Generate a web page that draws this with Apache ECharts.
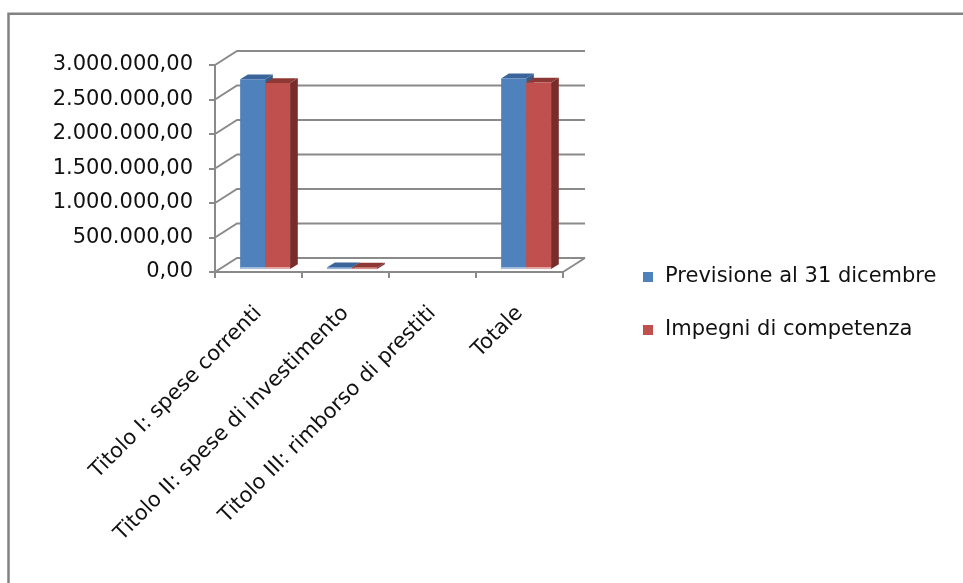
<!DOCTYPE html>
<html>
<head>
<meta charset="utf-8">
<script src="https://cdn.jsdelivr.net/npm/echarts@6/dist/echarts.min.js"></script>
<style>
  html, body { margin: 0; padding: 0; background: #fff; }
  #chart { width: 963px; height: 583px; }
</style>
</head>
<body>
<div id="chart"></div>
<script>
// Categories and series values
const categories = [
  'Titolo I: spese correnti',
  'Titolo II: spese di investimento',
  'Titolo III: rimborso di prestiti',
  'Totale'
];
const seriesNames = ['Previsione al 31 dicembre', 'Impegni di competenza'];
const previsione = [2750000, 25000, 0, 2762000];
const impegni = [2695000, 22000, 0, 2703000];
const yTicks = [0, 500000, 1000000, 1500000, 2000000, 2500000, 3000000];

// Pseudo-3D projection of the depth axis (pixels for full depth)
const DEPTH = { dx: 22, dy: -14 };
const BAR_FRONT = 0.21;   // fraction of depth where bar front faces sit
const BAR_BACK = 0.56;    // fraction of depth where bar back faces sit
const GRID_COLOR = '#8a8a8a';
const FONT = 'DejaVu Sans';
const FONT_SIZE = 21;

const palette = [
  { front: '#4F81BD', top: '#3B659A', side: '#375C8A', foot: '#A9C0DE' },
  { front: '#C0504D', top: '#8E3835', side: '#782D2B', foot: '#E2AAA8' }
];

function itNumber(v) {
  const s = Math.round(v).toString().replace(/\B(?=(\d{3})+(?!\d))/g, '.');
  return s + ',00';
}

// Walls: side wall diagonals, back wall gridlines and right floor edge
function renderWalls(params, api) {
  const v = api.value(1);
  const cs = params.coordSys;
  const y = api.coord([0, v])[1];
  const x0 = cs.x, x1 = cs.x + cs.width;
  const children = [{
    type: 'polyline',
    shape: { points: [[x0, y], [x0 + DEPTH.dx, y + DEPTH.dy], [x1 + DEPTH.dx, y + DEPTH.dy]] },
    style: { stroke: GRID_COLOR, lineWidth: 2, fill: null }
  }];
  if (v === 0) {
    children.push({
      type: 'line',
      shape: { x1: x1, y1: y, x2: x1 + DEPTH.dx, y2: y + DEPTH.dy },
      style: { stroke: GRID_COLOR, lineWidth: 2 }
    });
  }
  return { type: 'group', children: children };
}

// Column drawn as a prism: front face, right side and top
function makeBarRenderer(seriesIndex) {
  const c = palette[seriesIndex];
  return function (params, api) {
    const i = api.value(0), v = api.value(1);
    if (!(v > 0)) return null;
    const base = api.coord([i, 0]);
    const top = api.coord([i, v]);
    const band = api.size([1, 0])[0];
    const w = band * 0.287;
    const fx = DEPTH.dx * BAR_FRONT, fy = DEPTH.dy * BAR_FRONT;
    const tx = DEPTH.dx * (BAR_BACK - BAR_FRONT), ty = DEPTH.dy * (BAR_BACK - BAR_FRONT);
    const x0 = base[0] - w + 2 + seriesIndex * w + fx;
    const x1 = x0 + w;
    const yb = base[1] + fy;
    const yt = Math.min(top[1] + fy, yb - 1.5);
    const foot = Math.min(2, (yb - yt) / 2);
    return {
      type: 'group',
      children: [
        { type: 'polygon', shape: { points: [[x1, yb], [x1 + tx, yb + ty], [x1 + tx, yt + ty], [x1, yt]] }, style: { fill: c.side } },
        { type: 'polygon', shape: { points: [[x0, yt], [x0 + tx, yt + ty], [x1 + tx, yt + ty], [x1, yt]] }, style: { fill: c.top } },
        { type: 'rect', shape: { x: x0, y: yt, width: w, height: yb - yt }, style: { fill: c.front } },
        { type: 'rect', shape: { x: x0, y: yb - foot, width: w, height: foot }, style: { fill: c.foot } }
      ]
    };
  };
}

const chart = echarts.init(document.getElementById('chart'), null, { renderer: 'canvas' });

const option = {
  animation: false,
  backgroundColor: '#ffffff',
  textStyle: { fontFamily: FONT },
  graphic: [{
    type: 'polyline',
    shape: { points: [[8.5, 583], [8.5, 13.8], [963, 13.8]] },
    style: { stroke: '#828282', lineWidth: 2.5, fill: null },
    z: 10
  }],
  legend: {
    orient: 'vertical',
    left: 643,
    top: 266,
    padding: 0,
    itemWidth: 10,
    itemHeight: 10,
    itemGap: 31,
    icon: 'rect',
    data: seriesNames,
    selectedMode: false,
    textStyle: { fontFamily: FONT, fontSize: FONT_SIZE, color: '#111', lineHeight: 22, padding: [0, 0, 0, 7] }
  },
  grid: { left: 215, top: 65, width: 348, height: 207, containLabel: false },
  xAxis: {
    type: 'category',
    data: categories,
    boundaryGap: true,
    axisLine: { show: true, lineStyle: { color: GRID_COLOR, width: 2 } },
    axisTick: { show: true, length: 6, alignWithLabel: false, lineStyle: { color: GRID_COLOR, width: 2 } },
    axisLabel: { interval: 0, rotate: 45, margin: 38, color: '#111', fontSize: FONT_SIZE, fontFamily: FONT },
    splitLine: { show: false }
  },
  yAxis: {
    type: 'value',
    min: 0,
    max: 3000000,
    interval: 500000,
    axisLine: { show: true, lineStyle: { color: GRID_COLOR, width: 2 } },
    axisTick: { show: true, length: 6, lineStyle: { color: GRID_COLOR, width: 2 } },
    axisLabel: { margin: 22, color: '#111', fontSize: FONT_SIZE, fontFamily: FONT, formatter: itNumber },
    splitLine: { show: false }
  },
  series: [
    {
      type: 'custom',
      name: 'walls',
      z: 1,
      silent: true,
      renderItem: renderWalls,
      encode: { x: 0, y: 1 },
      data: yTicks.map(function (t) { return [0, t]; })
    },
    {
      type: 'custom',
      name: seriesNames[0],
      z: 3,
      itemStyle: { color: palette[0].front },
      renderItem: makeBarRenderer(0),
      encode: { x: 0, y: 1 },
      data: previsione.map(function (v, i) { return [i, v]; })
    },
    {
      type: 'custom',
      name: seriesNames[1],
      z: 4,
      itemStyle: { color: palette[1].front },
      renderItem: makeBarRenderer(1),
      encode: { x: 0, y: 1 },
      data: impegni.map(function (v, i) { return [i, v]; })
    }
  ]
};

chart.setOption(option);
</script>
</body>
</html>
